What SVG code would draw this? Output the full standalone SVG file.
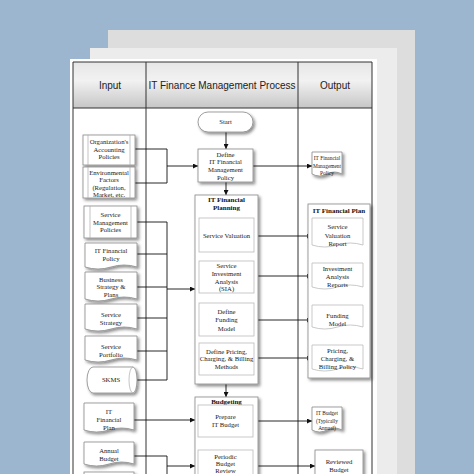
<svg xmlns="http://www.w3.org/2000/svg" width="474" height="474" viewBox="0 0 474 474">
<defs>
<linearGradient id="hdr" x1="0" y1="0" x2="0" y2="1">
<stop offset="0" stop-color="#e6e6e6"/>
<stop offset="0.4" stop-color="#f2f2f2"/>
<stop offset="1" stop-color="#c6c6c6"/>
</linearGradient>
<filter id="sh" x="-20%" y="-20%" width="150%" height="150%">
<feDropShadow dx="1.8" dy="2" stdDeviation="1.4" flood-color="#000" flood-opacity="0.45"/>
</filter>
<marker id="ah" viewBox="0 0 10 10" refX="10" refY="5" markerWidth="6" markerHeight="5" markerUnits="userSpaceOnUse" orient="auto">
<path d="M0,0 L10,5 L0,10 Z" fill="#111"/>
</marker>
<style>
.shape{fill:#fff;stroke:#888;stroke-width:0.8;filter:url(#sh)}
.inner{fill:#fff;stroke:#bbb;stroke-width:0.8}
.thin{fill:none;stroke:#aaa;stroke-width:0.7}
.lbl{font-family:"Liberation Serif","Times New Roman",serif;font-size:6.7px;text-anchor:middle;fill:#222}
.sm{font-size:5.4px}
.ttl{font-family:"Liberation Serif","Times New Roman",serif;font-size:7px;font-weight:bold;text-anchor:middle;fill:#111}
.hd{font-family:"Liberation Sans",Arial,sans-serif;font-size:10px;text-anchor:middle;fill:#222}
.conn{fill:none;stroke:#111;stroke-width:0.9}
.arr{fill:none;stroke:#111;stroke-width:0.9;marker-end:url(#ah)}
.grid{fill:none;stroke:#333;stroke-width:1}
</style>
</defs>
<rect x="0" y="0" width="474" height="474" fill="#9db6cf"/>
<rect x="108" y="30" width="307" height="444" fill="#dedddd"/>
<rect x="90" y="48" width="307" height="426" fill="#ececec"/>
<rect x="70" y="59" width="307" height="415" fill="#ffffff"/>

<g id="table">
<rect x="73" y="62" width="299" height="46" fill="url(#hdr)"/>
<path class="grid" d="M73,474 V62 H372 V474 M146,62 V474 M298,62 V474 M73,108 H372"/>
<text class="hd" x="110" y="89">Input</text>
<text class="hd" x="222" y="89">IT Finance Management Process</text>
<text class="hd" x="335" y="89">Output</text>
</g>

<g id="connectors">
<path class="conn" d="M135,149 H167 V183 H135"/>
<path class="arr" d="M167,166 H198"/>
<path class="conn" d="M137,222 H167 V380 H137 M137,254 H167 M137,287 H167 M137,318 H167 M137,351 H167"/>
<path class="arr" d="M167,289 H195"/>
<path class="arr" d="M134,420 H195"/>
<path class="conn" d="M134,456 H167 V474"/>
<path class="arr" d="M167,466 H195"/>
<path class="arr" d="M226,132 V149"/>
<path class="arr" d="M226,182 V195"/>
<path class="arr" d="M226,384 V397"/>
<path class="arr" d="M253,166 H312"/>
<path class="arr" d="M254,236 H312"/>
<path class="arr" d="M254,276 H312"/>
<path class="arr" d="M254,320 H312"/>
<path class="arr" d="M254,358 H312"/>
<path class="arr" d="M253,421 H312"/>
<path class="arr" d="M253,466 H315"/>
</g>

<g id="in-org">
<rect class="shape" x="83" y="135" width="52" height="30"/>
<path class="thin" d="M88,135 V165 M130,135 V165"/>
<text class="lbl" x="109" y="144">Organization's</text>
<text class="lbl" x="109" y="151.5">Accounting</text>
<text class="lbl" x="109" y="159">Policies</text>
</g>
<g id="in-env">
<rect class="shape" x="83" y="167" width="52" height="31"/>
<path class="thin" d="M88,167 V198 M130,167 V198"/>
<text class="lbl" x="109" y="174.5">Environmental</text>
<text class="lbl" x="109" y="182">Factors</text>
<text class="lbl" x="109" y="189.5">(Regulation,</text>
<text class="lbl" x="109" y="197">Market, etc.</text>
</g>
<g id="in-smp">
<rect class="shape" x="84" y="206" width="53" height="32"/>
<path class="thin" d="M90,206 V238 M131,206 V238"/>
<text class="lbl" x="110.5" y="217">Service</text>
<text class="lbl" x="110.5" y="224.5">Management</text>
<text class="lbl" x="110.5" y="232">Policies</text>
</g>
<g id="in-itfp">
<path class="shape" d="M85,243 H137 V267 Q124,263 111,267 Q98,271 85,267 Z"/>
<text class="lbl" x="111" y="253">IT Financial</text>
<text class="lbl" x="111" y="260.5">Policy</text>
</g>
<g id="in-bsp">
<path class="shape" d="M85,272 H137 V299 Q124,295 111,299 Q98,303 85,299 Z"/>
<text class="lbl" x="111" y="281.5">Business</text>
<text class="lbl" x="111" y="289">Strategy &amp;</text>
<text class="lbl" x="111" y="296.5">Plans</text>
</g>
<g id="in-ss">
<path class="shape" d="M85,304 H137 V329 Q124,325 111,329 Q98,333 85,329 Z"/>
<text class="lbl" x="111" y="317">Service</text>
<text class="lbl" x="111" y="324.5">Strategy</text>
</g>
<g id="in-sp">
<path class="shape" d="M85,336 H137 V360 Q124,356 111,360 Q98,364 85,360 Z"/>
<text class="lbl" x="111" y="349">Service</text>
<text class="lbl" x="111" y="356.5">Portfolio</text>
</g>
<g id="in-skms">
<path class="shape" d="M93,367 H133 A4,13 0 0 1 133,393 H93 A6,13 0 0 1 93,367 Z"/>
<path class="thin" d="M133,367 A4,13 0 0 0 133,393"/>
<text class="lbl" x="111" y="382">SKMS</text>
</g>
<g id="in-itfplan">
<path class="shape" d="M84,403 H134 V430 Q121.5,426 109,430 Q96.5,434 84,430 Z"/>
<text class="lbl" x="109" y="414">IT</text>
<text class="lbl" x="109" y="422">Financial</text>
<text class="lbl" x="109" y="429.5">Plan</text>
</g>
<g id="in-ab">
<path class="shape" d="M84,442 H134 V464 Q121.5,460 109,464 Q96.5,468 84,464 Z"/>
<text class="lbl" x="109" y="453">Annual</text>
<text class="lbl" x="109" y="461">Budget</text>
</g>
<g id="in-more">
<rect class="shape" x="84" y="472" width="50" height="20"/>
</g>

<g id="p-start">
<rect class="shape" x="198" y="112" width="55" height="20" rx="10"/>
<text class="lbl" x="225.5" y="124">Start</text>
</g>
<g id="p-define">
<rect class="shape" x="198" y="149" width="55" height="33"/>
<text class="lbl" x="225.5" y="156.5">Define</text>
<text class="lbl" x="225.5" y="164">IT Financial</text>
<text class="lbl" x="225.5" y="172">Management</text>
<text class="lbl" x="225.5" y="179.5">Policy</text>
</g>
<g id="p-planning">
<rect class="shape" x="195" y="195" width="63" height="189"/>
<text class="ttl" x="226.5" y="201.5">IT Financial</text>
<text class="ttl" x="226.5" y="209.5">Planning</text>
</g>
<g id="p-sv">
<rect class="inner" x="199" y="218" width="55" height="34"/>
<text class="lbl" x="226.5" y="238">Service Valuation</text>
</g>
<g id="p-sia">
<rect class="inner" x="199" y="261" width="55" height="32"/>
<text class="lbl" x="226.5" y="267.5">Service</text>
<text class="lbl" x="226.5" y="275.5">Investment</text>
<text class="lbl" x="226.5" y="283.5">Analysis</text>
<text class="lbl" x="226.5" y="291">(SIA)</text>
</g>
<g id="p-fund">
<rect class="inner" x="199" y="303" width="55" height="33"/>
<text class="lbl" x="226.5" y="313.5">Define</text>
<text class="lbl" x="226.5" y="322">Funding</text>
<text class="lbl" x="226.5" y="330.5">Model</text>
</g>
<g id="p-pricing">
<rect class="inner" x="199" y="343" width="55" height="32"/>
<text class="lbl" x="226.5" y="353.5">Define Pricing,</text>
<text class="lbl" x="226.5" y="361">Charging, &amp; Billing</text>
<text class="lbl" x="226.5" y="368.5">Methods</text>
</g>
<g id="p-budgeting">
<rect class="shape" x="195" y="397" width="63" height="90"/>
<text class="ttl" x="226.5" y="403.5">Budgeting</text>
</g>
<g id="p-prepare">
<rect class="inner" x="198" y="405" width="55" height="32"/>
<text class="lbl" x="225.5" y="419">Prepare</text>
<text class="lbl" x="225.5" y="426.5">IT Budget</text>
</g>
<g id="p-review">
<rect class="inner" x="198" y="450" width="55" height="32"/>
<text class="lbl" x="225.5" y="459">Periodic</text>
<text class="lbl" x="225.5" y="466">Budget</text>
<text class="lbl" x="225.5" y="472.5">Review</text>
</g>

<g id="o-itfmp">
<path class="shape" d="M312,152 H342 V174 Q334.5,170 327,174 Q319.5,178 312,174 Z"/>
<text class="lbl sm" x="327" y="160">IT Financial</text>
<text class="lbl sm" x="327" y="167.5">Management</text>
<text class="lbl sm" x="327" y="175">Policy</text>
</g>
<g id="o-plan">
<rect class="shape" x="308" y="204" width="62" height="174"/>
<text class="ttl" x="339" y="213">IT Financial Plan</text>
</g>
<g id="o-svr">
<path class="inner" d="M312,218 H363 V245 Q350.25,241 337.5,245 Q324.75,249 312,245 Z"/>
<text class="lbl" x="337.5" y="229">Service</text>
<text class="lbl" x="337.5" y="238">Valuation</text>
<text class="lbl" x="337.5" y="246">Report</text>
</g>
<g id="o-iar">
<path class="inner" d="M312,263 H363 V287 Q350.25,283 337.5,287 Q324.75,291 312,287 Z"/>
<text class="lbl" x="337.5" y="271">Investment</text>
<text class="lbl" x="337.5" y="279">Analysis</text>
<text class="lbl" x="337.5" y="286.5">Reports</text>
</g>
<g id="o-fm">
<path class="inner" d="M312,305 H363 V327 Q350.25,323 337.5,327 Q324.75,331 312,327 Z"/>
<text class="lbl" x="337.5" y="318">Funding</text>
<text class="lbl" x="337.5" y="325.5">Model</text>
</g>
<g id="o-pcbp">
<path class="inner" d="M312,345 H363 V369 Q350.25,365 337.5,369 Q324.75,373 312,369 Z"/>
<text class="lbl" x="337.5" y="353">Pricing,</text>
<text class="lbl" x="337.5" y="360.5">Charging, &amp;</text>
<text class="lbl" x="337.5" y="368.5">Billing Policy</text>
</g>
<g id="o-itb">
<path class="shape" d="M312,407 H342 V430 Q334.5,426 327,430 Q319.5,434 312,430 Z"/>
<text class="lbl sm" x="327" y="415">IT Budget</text>
<text class="lbl sm" x="327" y="422.5">(Typically</text>
<text class="lbl sm" x="327" y="430">Annual)</text>
</g>
<g id="o-rb">
<rect class="shape" x="315" y="450" width="48" height="32"/>
<text class="lbl" x="339" y="464">Reviewed</text>
<text class="lbl" x="339" y="472">Budget</text>
</g>
</svg>
